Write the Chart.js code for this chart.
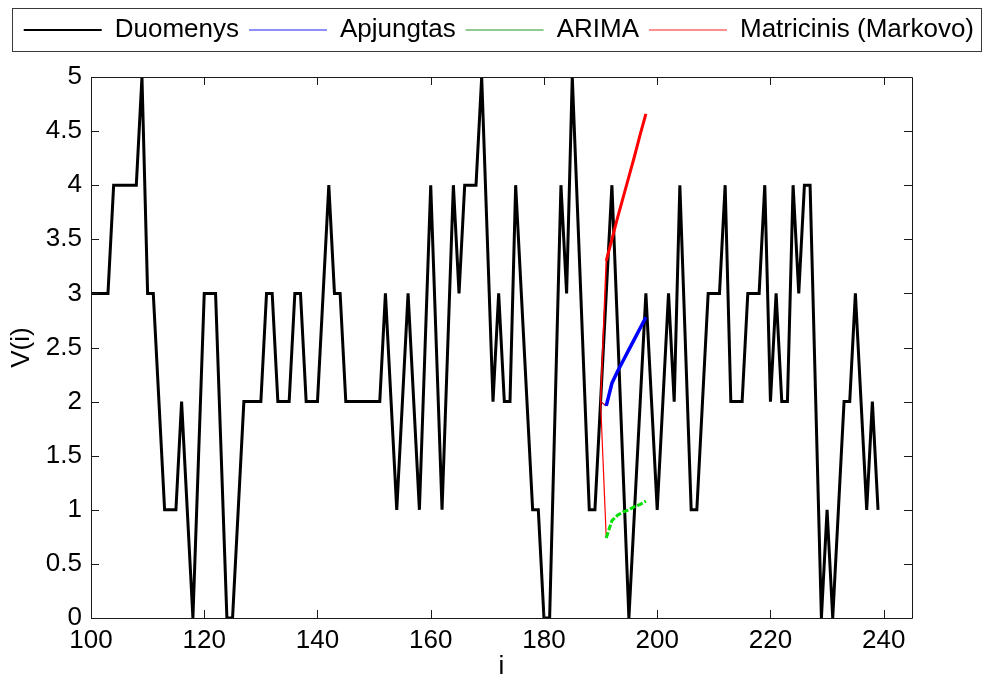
<!DOCTYPE html>
<html>
<head>
<meta charset="utf-8">
<script src="https://cdn.jsdelivr.net/npm/chart.js@4/dist/chart.umd.min.js"></script>
<style>
html,body{margin:0;padding:0;background:#fff;}
#wrap{width:984px;height:683px;}
</style>
</head>
<body>
<div id="wrap"><canvas id="c" width="984" height="683"></canvas></div>
<script>
// ---- data ----
const dataStart = 100;
const dataValues = [
  3,3,3,3,4,4,4,4,4,5,
  3,3,2,1,1,1,2,1,0,1.5,
  3,3,3,1.5,0,0,1,2,2,2,
  2,3,3,2,2,2,3,3,2,2,
  2,3,4,3,3,2,2,2,2,2,
  2,2,3,2,1,2,3,2,1,2.5,
  4,2.5,1,2.5,4,3,4,4,4,5,
  3.5,2,3,2,2,4,3,2,1,1,
  0,0,2,4,3,5,3.67,2.33,1,1,
  2,3,4,2.67,1.33,0,1,2,3,2,
  1,2,3,2,4,2.5,1,1,2,3,
  3,3,4,2,2,2,3,3,3,4,
  2,3,2,2,4,3,4,4,2,0,
  1,0,1,2,2,3,2,1,2,1
];
const forecastStart = 190;
const apjungtasValues = [2, 1.96, 2.17, 2.28, 2.38, 2.48, 2.58, 2.68, 2.78];
const arimaValues     = [2, 0.74, 0.9, 0.95, 0.98, 1.0, 1.03, 1.05, 1.08];
const markovValues    = [2, 3.3, 3.5, 3.7, 3.89, 4.08, 4.27, 4.47, 4.66];
const seriesNames = ['Duomenys', 'Apjungtas', 'ARIMA', 'Matricinis (Markovo)'];
const xTicks = [100, 120, 140, 160, 180, 200, 220, 240];
const yTicks = [0, 0.5, 1, 1.5, 2, 2.5, 3, 3.5, 4, 4.5, 5];
const xMin = 100, xMax = 245, yMin = 0, yMax = 5;

// ---- helpers ----
function toPoints(start, vals) { return vals.map((v, k) => ({ x: start + k, y: v })); }
const FONT = "'Liberation Sans', Arial, Helvetica, sans-serif";
const legendColors = ['#000000', 'rgb(30,30,255)', 'rgb(30,150,30)', 'rgb(255,30,30)'];

const firstSeg = (a, b) => (ctx) => ctx.p0DataIndex === 0 ? a : b;

const boxPlugin = {
  id: 'boxTicks',
  afterDatasetsDraw(chart) {
    const { ctx, chartArea: a, scales } = chart;
    const xs = scales.x, ys = scales.y;
    const L = 8;
    ctx.save();
    ctx.strokeStyle = '#1a1a1a';
    ctx.lineWidth = 1;
    ctx.beginPath();
    ctx.rect(Math.round(a.left) + 0.5, Math.round(a.top) + 0.5, Math.round(a.right - a.left), Math.round(a.bottom - a.top));
    xTicks.forEach(t => {
      const px = Math.round(xs.getPixelForValue(t)) + 0.5;
      ctx.moveTo(px, a.bottom); ctx.lineTo(px, a.bottom - L);
      ctx.moveTo(px, a.top); ctx.lineTo(px, a.top + L);
    });
    yTicks.forEach(t => {
      const py = Math.round(ys.getPixelForValue(t)) + 0.5;
      ctx.moveTo(a.left, py); ctx.lineTo(a.left + L, py);
      ctx.moveTo(a.right, py); ctx.lineTo(a.right - L, py);
    });
    ctx.stroke();
    ctx.restore();
  },
  afterDraw(chart) {
    const lg = chart.legend;
    if (!lg) return;
    const ctx = chart.ctx;
    ctx.save();
    ctx.strokeStyle = '#3a3a3a';
    ctx.lineWidth = 1;
    ctx.strokeRect(lg.left + 12.5, lg.top + 1.5, lg.width - 15, lg.height - 3);
    ctx.restore();
  }
};

new Chart(document.getElementById('c'), {
  type: 'line',
  data: {
    datasets: [
      {
        label: seriesNames[0],
        data: toPoints(dataStart, dataValues),
        borderColor: '#000000',
        borderWidth: 3,
        pointRadius: 0,
        tension: 0,
        order: 10
      },
      {
        label: seriesNames[1],
        data: toPoints(forecastStart, apjungtasValues),
        borderColor: '#0000ff',
        borderWidth: 3.5,
        pointRadius: 0,
        tension: 0,
        order: 3,
        segment: {
          borderColor: firstSeg('#b00030', '#0000ff'),
          borderWidth: firstSeg(1.2, 3.5)
        }
      },
      {
        label: seriesNames[2],
        data: toPoints(forecastStart, arimaValues),
        borderColor: '#00e000',
        borderWidth: 3,
        borderDash: [6, 2],
        pointRadius: 0,
        tension: 0,
        order: 2,
        segment: {
          borderColor: firstSeg('#ff0000', '#00e000'),
          borderWidth: firstSeg(1.2, 3),
          borderDash: firstSeg([], [6, 2])
        }
      },
      {
        label: seriesNames[3],
        data: toPoints(forecastStart, markovValues),
        borderColor: '#ff0000',
        borderWidth: 3,
        pointRadius: 0,
        tension: 0,
        order: 1,
        segment: {
          borderWidth: firstSeg(1.5, 3)
        }
      }
    ]
  },
  options: {
    responsive: false,
    animation: false,
    devicePixelRatio: 1,
    layout: { padding: { top: 7, left: 0, right: 0, bottom: 0 } },
    plugins: {
      tooltip: { enabled: false },
      legend: {
        display: true,
        position: 'top',
        align: 'end',
        labels: {
          usePointStyle: true,
          pointStyle: 'line',
          pointStyleWidth: 78,
          boxHeight: 10,
          padding: 10,
          color: '#000',
          font: { family: FONT, size: 26 },
          sort: (a, b) => a.datasetIndex - b.datasetIndex,
          generateLabels(chart) {
            const items = Chart.defaults.plugins.legend.labels.generateLabels(chart);
            items.forEach(it => {
              it.pointStyle = 'line';
              it.lineWidth = it.datasetIndex === 0 ? 2 : 1;
              it.lineDash = [];
              it.strokeStyle = legendColors[it.datasetIndex];
              it.fillStyle = legendColors[it.datasetIndex];
            });
            return items;
          }
        }
      },
      title: {
        display: true,
        text: '',
        weight: 900,
        font: { size: 1, lineHeight: 1 },
        padding: { top: 0, bottom: 23 }
      }
    },
    scales: {
      x: {
        type: 'linear',
        position: 'bottom',
        min: xMin,
        max: xMax,
        grid: { display: false, drawTicks: false },
        border: { display: false },
        afterBuildTicks(s) { s.ticks = xTicks.map(v => ({ value: v })); },
        afterFit(s) { s.height = 65; },
        ticks: {
          autoSkip: false,
          maxRotation: 0,
          padding: 7,
          color: '#000',
          font: { family: FONT, size: 26 },
          callback: v => String(v)
        },
        title: {
          display: true,
          text: 'i',
          color: '#000',
          font: { family: FONT, size: 26 },
          padding: { top: 0, bottom: 1 }
        }
      },
      y: {
        type: 'linear',
        position: 'left',
        min: yMin,
        max: yMax,
        grid: { display: false, drawTicks: false },
        border: { display: false },
        afterBuildTicks(s) { s.ticks = yTicks.map(v => ({ value: v })); },
        afterFit(s) { s.width = 91; },
        ticks: {
          autoSkip: false,
          padding: 9,
          color: '#000',
          font: { family: FONT, size: 26 },
          callback: v => String(v)
        },
        title: {
          display: true,
          text: 'V(i)',
          color: '#000',
          font: { family: FONT, size: 26 },
          padding: { top: 6, bottom: 0 }
        }
      },
      yR: {
        type: 'linear',
        position: 'right',
        min: yMin,
        max: yMax,
        display: true,
        grid: { display: false, drawTicks: false },
        border: { display: false },
        ticks: { display: false },
        afterFit(s) { s.width = 72; }
      }
    }
  },
  plugins: [boxPlugin]
});
</script>
</body>
</html>
